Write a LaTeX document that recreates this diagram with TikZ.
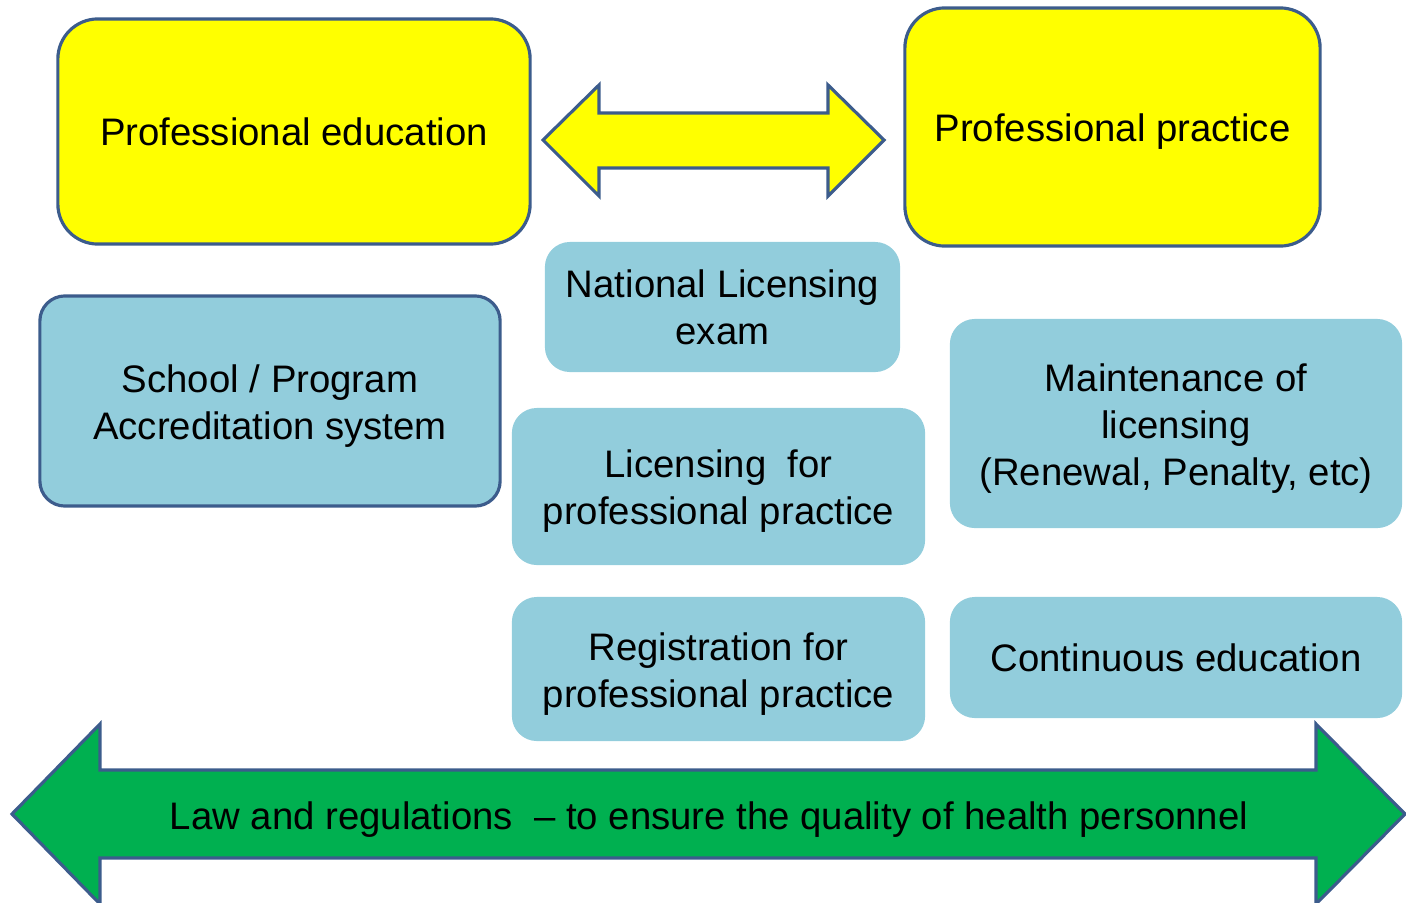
\documentclass[tikz,border=0pt]{standalone}
\usepackage{fontspec}
\setmainfont{Liberation Sans}
\definecolor{boxblue}{RGB}{146,205,220}
\definecolor{lineblue}{RGB}{60,92,140}
\definecolor{lawgreen}{RGB}{0,176,80}
\definecolor{boxyellow}{RGB}{255,255,0}
\newcommand{\lowstrut}{\rule{0pt}{0.375cm}}

\begin{document}
\begin{tikzpicture}[x=0.01cm, y=-0.01cm]
            \tikzstyle{main box} = [fill=boxyellow, draw=lineblue, line width=0.9pt, rounded corners=0.4cm, align=center]
            \tikzstyle{part box} = [fill=boxblue, draw=none, rounded corners=0.25cm, align=center]
            \tikzstyle{framed part box} = [part box, draw=lineblue, line width=0.9pt]
            \tikzstyle{big arrow} = [draw=lineblue, line width=0.9pt, line join=miter]
            \tikzstyle{label text} = [font=\fontsize{10.9}{13.3}\selectfont]

            \useasboundingbox (0, 0) rectangle (1406, 903);

            \node[main box, label text, minimum width=4.72cm, minimum height=2.25cm] (edu) at (294, 131.5) {Professional education};
            \node[main box, label text, minimum width=4.15cm, minimum height=2.38cm] (prac) at (1112.5, 127) {\lowstrut Professional practice};

            \draw[big arrow, fill=boxyellow] (543, 140) -- (599, 85) -- (599, 113) -- (828, 113) -- (828, 85) -- (884, 140)
                -- (828, 196) -- (828, 168) -- (599, 168) -- (599, 196) -- cycle;

            \node[part box, label text, minimum width=3.55cm, minimum height=1.30cm] (exam) at (722.5, 307) {National Licensing\\exam};
            \node[framed part box, label text, minimum width=4.60cm, minimum height=2.10cm] (school) at (270, 401) {\lowstrut School / Program\\Accreditation system};
            \node[part box, label text, minimum width=4.13cm, minimum height=1.57cm] (lic) at (718.5, 486.5) {\lowstrut Licensing\ \ for\\professional practice};
            \node[part box, label text, minimum width=4.52cm, minimum height=2.09cm] (maint) at (1176, 423.5) {\lowstrut Maintenance of\\licensing\\(Renewal, Penalty, etc)};
            \node[part box, label text, minimum width=4.13cm, minimum height=1.44cm] (reg) at (718.5, 669) {\lowstrut Registration for\\professional practice};
            \node[part box, label text, minimum width=4.52cm, minimum height=1.21cm] (cont) at (1176, 657.5) {Continuous education};

            \draw[big arrow, fill=lawgreen] (12, 814) -- (100, 724) -- (100, 770) -- (1316, 770) -- (1316, 724) -- (1405, 814)
                -- (1316, 904) -- (1316, 858) -- (100, 858) -- (100, 904) -- cycle;
            \node[label text] (law) at (709, 815) {\lowstrut Law and regulations\ \ -- to ensure the quality of health personnel};

        \end{tikzpicture}
\end{document}
